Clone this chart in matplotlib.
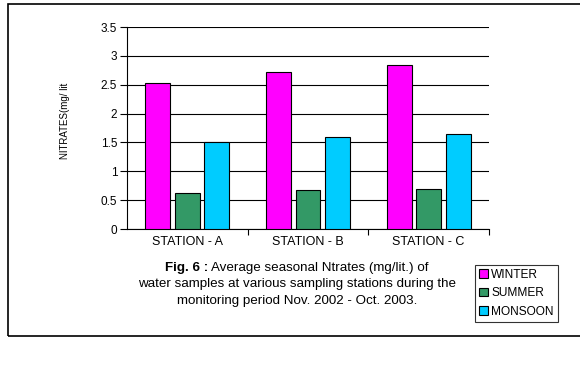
import numpy as np
import matplotlib
matplotlib.use('Agg')
import matplotlib.pyplot as plt
from matplotlib.patches import Rectangle

# data
stations = ['STATION - A', 'STATION - B', 'STATION - C']
seasons = ['WINTER', 'SUMMER', 'MONSOON']
winter = [2.53, 2.72, 2.85]
summer = [0.63, 0.67, 0.70]
monsoon = [1.50, 1.59, 1.65]
colors = ['#FF00FF', '#339966', '#00CCFF']
yticks = [0, 0.5, 1, 1.5, 2, 2.5, 3, 3.5]

plt.rcParams['font.family'] = ['Liberation Sans', 'DejaVu Sans']

fig = plt.figure(figsize=(5.8, 3.74), dpi=100)
ax = fig.add_axes([127/580, 1-229/374, 362/580, 202/374])

# outer frame
fig.patches.append(Rectangle((8/580, 1-336/374), 600/580, 332/374,
                             transform=fig.transFigure, fill=False,
                             edgecolor='black', linewidth=1.2))

x = np.arange(len(stations))
w = 0.207
step = 0.245
for i, (vals, c) in enumerate(zip([winter, summer, monsoon], colors)):
    ax.bar(x + (i - 1) * step, vals, width=w, color=c, edgecolor='black',
           linewidth=0.8, label=seasons[i], zorder=3)

ax.set_xlim(-0.5, 2.5)
ax.set_ylim(0, 3.5)
ax.set_yticks(yticks)
ax.set_yticklabels(['0', '0.5', '1', '1.5', '2', '2.5', '3', '3.5'], fontsize=8.5)
ax.yaxis.grid(True, color='black', linewidth=0.8, zorder=0)
ax.set_xticks([0.5, 1.5, 2.5])
ax.set_xticklabels([])
ax.set_xticks(x, minor=True)
ax.set_xticklabels(stations, minor=True, fontsize=9)
ax.tick_params(axis='x', which='minor', length=0, pad=5)
ax.tick_params(axis='x', which='major', length=4, direction='out')
ax.tick_params(axis='y', length=5, direction='out', pad=2)
ax.spines['top'].set_visible(False)
ax.spines['right'].set_visible(False)

# y label
fig.text(65/580, 1-121/374, 'NITRATES(mg/ lit', rotation=90, fontsize=7,
         ha='center', va='center')

# caption, first line has a bold lead-in
fs = 9.6
t1 = fig.text(0, 1-268/374, 'Fig. 6 :', fontsize=fs, fontweight='bold',
              ha='left', va='center')
t2 = fig.text(0, 1-268/374, ' Average seasonal Ntrates (mg/lit.) of',
              fontsize=fs, ha='left', va='center')
fig.canvas.draw()
r = fig.canvas.get_renderer()
w1 = t1.get_window_extent(r).width / 580
w2 = t2.get_window_extent(r).width / 580
x0 = 297/580 - (w1 + w2) / 2
t1.set_x(x0)
t2.set_x(x0 + w1)
fig.text(297/580, 1-284/374, 'water samples at various sampling stations during the',
         fontsize=fs, ha='center', va='center')
fig.text(297/580, 1-301/374, 'monitoring period Nov. 2002 - Oct. 2003.',
         fontsize=fs, ha='center', va='center')

leg = fig.legend(loc='lower left', bbox_to_anchor=(475/580, 1-322/374),
                 fontsize=8.6, frameon=True, fancybox=False, handlelength=0.7,
                 handleheight=0.7, handletextpad=0.3, borderpad=0.35,
                 labelspacing=0.55, borderaxespad=0)
leg.get_frame().set_edgecolor('black')
leg.get_frame().set_linewidth(0.8)

fig.savefig('out.png', dpi=100)
